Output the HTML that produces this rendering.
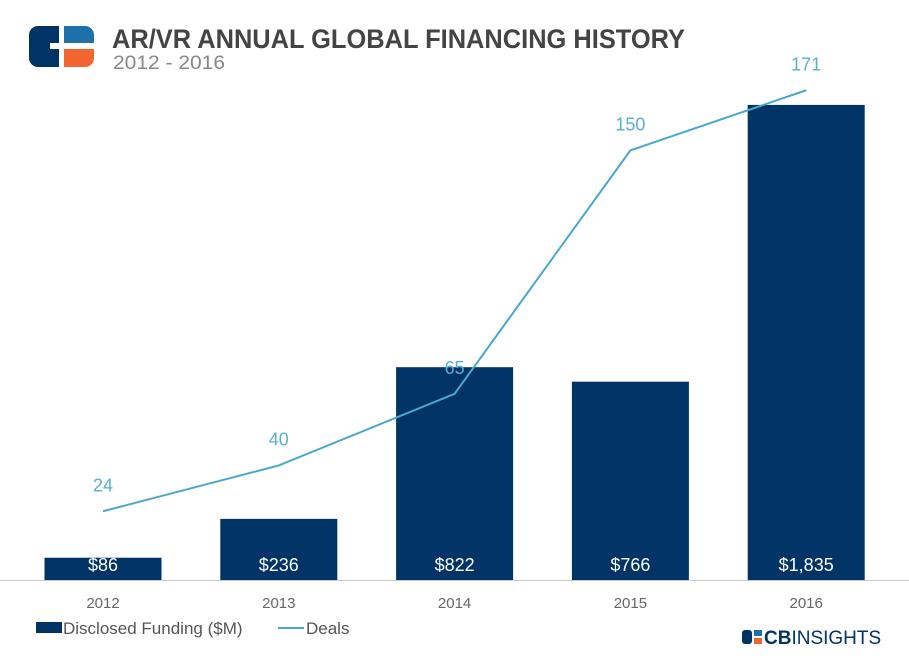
<!DOCTYPE html>
<html><head><meta charset="utf-8"><style>
body{margin:0;background:#fff;width:909px;height:659px;overflow:hidden;font-family:"Liberation Sans",sans-serif}
</style></head><body>
<svg width="909" height="659">
<g>
<path d="M38,26 H59 V67 H38 A9,9 0 0 1 29,58 V35 A9,9 0 0 1 38,26 Z" fill="#003466"/>
<rect x="50" y="43" width="10" height="6" fill="#fff"/>
<path d="M64,26 H85 A9,9 0 0 1 94,35 V43 H64 Z" fill="#1f6fa8"/>
<path d="M64,49 H94 V58 A9,9 0 0 1 85,67 H64 Z" fill="#f26531"/>
</g>
<text x="112" y="48" font-size="27" font-weight="bold" fill="#444" textLength="573" lengthAdjust="spacingAndGlyphs">AR/VR ANNUAL GLOBAL FINANCING HISTORY</text>
<text x="113" y="69" font-size="19" fill="#888" textLength="112" lengthAdjust="spacingAndGlyphs">2012 - 2016</text>
<line x1="0" y1="580.5" x2="909" y2="580.5" stroke="#ccc"/>
<g id="bars"></g><g id="line"></g><g id="xlabels"></g>
<g>
<rect x="36" y="622" width="26" height="11" fill="#003466"/>
<text x="63" y="634" font-size="17" fill="#555">Disclosed Funding ($M)</text>
<line x1="278" y1="628" x2="304" y2="628" stroke="#4aa8cc" stroke-width="2"/>
<text x="306" y="634" font-size="17" fill="#555">Deals</text>
</g>
<g>
<rect x="742" y="630" width="10" height="14" rx="3" fill="#003466"/>
<rect x="754" y="630" width="8" height="6" fill="#1f6fa8"/>
<rect x="754" y="638" width="8" height="6" fill="#f26531"/>
<text x="764" y="644" font-size="19" fill="#003466"><tspan font-weight="bold">CB</tspan>INSIGHTS</text>
</g>
</svg>
<script>
const categories=["2012","2013","2014","2015","2016"];
const funding=[86,236,822,766,1835];
const fundingLabels=["$86","$236","$822","$766","$1,835"];
const deals=[24,40,65,150,171];
const NS="http://www.w3.org/2000/svg";
const base=580;
const xC=i=>103+i*175.8;
const yBar=v=>base-v*0.2589;
const yLine=v=>base-v*2.864;
function mk(t,a,p){const e=document.createElementNS(NS,t);for(const k in a)e.setAttribute(k,a[k]);p.appendChild(e);return e;}
const bars=document.getElementById('bars'),line=document.getElementById('line'),xl=document.getElementById('xlabels');
categories.forEach((c,i)=>{
 const r=mk('rect',{x:xC(i)-58.5,y:yBar(funding[i]),width:117,height:base-yBar(funding[i]),fill:'#003466'},bars);
 
 
 const t=mk('text',{x:xC(i),y:571,'text-anchor':'middle','font-size':18,fill:'#fff'},bars);t.textContent=fundingLabels[i];
 
 
 const x=mk('text',{x:xC(i),y:608,'text-anchor':'middle','font-size':15,fill:'#666'},xl);x.textContent=c;
 
 
 const d=mk('text',{x:xC(i),y:yLine(deals[i])-20,'text-anchor':'middle','font-size':18,fill:'#5ab0d0'},line);d.textContent=deals[i];
 
 
});
const pl=mk('polyline',{points:deals.map((v,i)=>xC(i)+','+yLine(v)).join(' '),fill:'none',stroke:'#4aa8cc','stroke-width':2},line);


</script>
</body></html>
